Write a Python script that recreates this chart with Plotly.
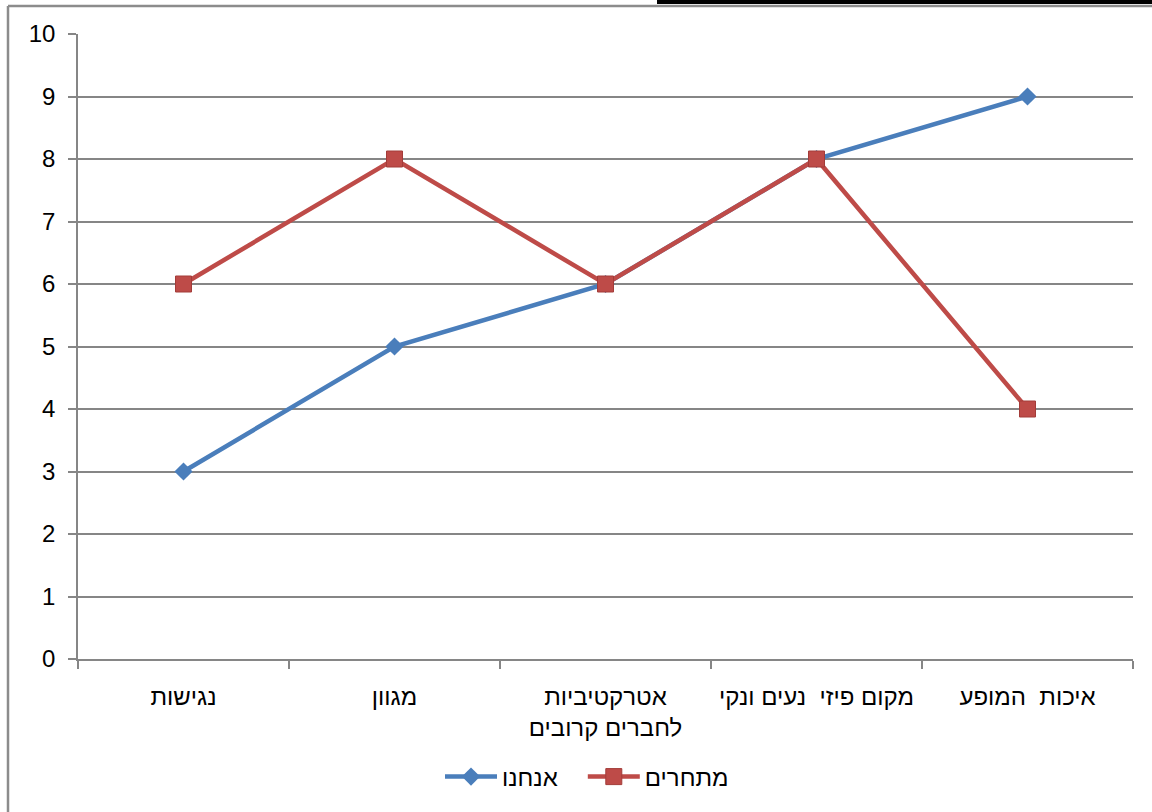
import plotly.graph_objects as go

categories = ["נגישות", "מגוון", "אטרקטיביות<br>לחברים קרובים", "מקום פיזי  נעים ונקי", "איכות  המופע"]
us_values = [3, 5, 6, 8, 9]
competitors_values = [6, 8, 6, 8, 4]
series_names = ["אנחנו", "מתחרים"]

W, H = 1152, 812
L, R, T, B = 78, 1133, 34, 659

def px(x):
    return (x - L) / (R - L)

def py(y):
    return (B - y) / (B - T)

fig = go.Figure()
fig.add_trace(go.Scatter(
    x=categories, y=us_values, name=series_names[0] + "   ", mode="lines+markers",
    line=dict(color="#4a7ebb", width=4.5),
    marker=dict(symbol="diamond", size=14, color="#4a7ebb"),
))
fig.add_trace(go.Scatter(
    x=categories, y=competitors_values, name=series_names[1], mode="lines+markers",
    line=dict(color="#be4b48", width=4.5),
    marker=dict(symbol="square", size=16, color="#be4b48", line=dict(color="#a33c39", width=1)),
))

font_family = "Liberation Sans, DejaVu Sans, sans-serif"

fig.update_layout(
    width=W, height=H,
    margin=dict(l=L, r=W - R, t=T, b=H - B),
    paper_bgcolor="white", plot_bgcolor="white",
    font=dict(family=font_family, size=23, color="#000000"),
    showlegend=True,
    legend=dict(orientation="h", x=px(587), xanchor="center", y=py(777), yanchor="middle",
                font=dict(size=24), itemwidth=52, traceorder="normal"),
    xaxis=dict(
        type="category", range=[-0.5, 4.5], tickson="boundaries",
        ticks="outside", ticklen=8, tickcolor="#868686", tickwidth=1.5,
        showline=True, linecolor="#868686", linewidth=1.5,
        showgrid=False, zeroline=False, ticklabelstandoff=15,
        tickfont=dict(size=24),
    ),
    yaxis=dict(
        range=[0, 10], dtick=1, ticks="outside", ticklen=8, tickcolor="#868686", tickwidth=1.5,
        showline=True, linecolor="#868686", linewidth=1.5,
        showgrid=True, gridcolor="#868686", gridwidth=1.5, zeroline=False,
        tickfont=dict(size=24), ticklabelstandoff=8,
    ),
)

# outer chart border (partly cropped) and black strip at the top
fig.add_shape(type="line", xref="paper", yref="paper", x0=px(8), x1=px(1160), y0=py(6), y1=py(6),
              line=dict(color="#8c8c8c", width=2.5))
fig.add_shape(type="line", xref="paper", yref="paper", x0=px(8), x1=px(8), y0=py(6), y1=py(820),
              line=dict(color="#8c8c8c", width=2.5))
fig.add_shape(type="rect", xref="paper", yref="paper", x0=px(657), x1=px(1160), y0=py(-2), y1=py(4),
              fillcolor="black", line=dict(width=0))

fig.write_html("out.html")
